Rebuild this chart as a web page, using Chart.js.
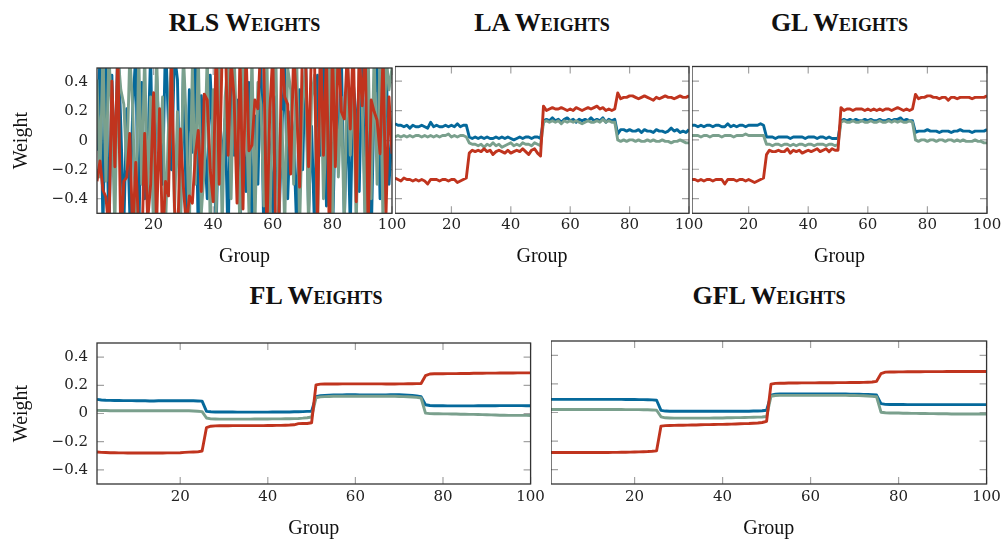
<!DOCTYPE html>
<html>
<head>
<meta charset="utf-8">
<script src="https://cdn.jsdelivr.net/npm/chart.js@4/dist/chart.umd.min.js"></script>
<style>
    html, body { margin: 0; padding: 0; background: #fff; width: 1005px; height: 543px; overflow: hidden; position: relative; }
    canvas { position: absolute; }
    .ttl {
        position: absolute;
        font-family: 'Liberation Serif', serif;
        font-weight: bold;
        font-size: 26px;
        line-height: 26px;
        font-variant: small-caps;
        color: #111;
        white-space: nowrap;
        transform: translateX(-50%);
    }
</style>
</head>
<body>
<div class="ttl" style="left:244.5px;top:10px">RLS Weights</div>
<div class="ttl" style="left:542px;top:10px">LA Weights</div>
<div class="ttl" style="left:839.5px;top:10px">GL Weights</div>
<div class="ttl" style="left:316px;top:283px">FL Weights</div>
<div class="ttl" style="left:769px;top:283px">GFL Weights</div>

<canvas id="rls"></canvas>
<canvas id="la"></canvas>
<canvas id="gl"></canvas>
<canvas id="fl"></canvas>
<canvas id="gfl"></canvas>

<script>
// group index 1..100 along the x axis
const groups = Array.from({ length: 100 }, (_, i) => i + 1);
const xTicks = [20, 40, 60, 80, 100];
const yTicks = [-0.4, -0.2, 0, 0.2, 0.4];

// RLS: unregularised, swings far past the +-0.5 window
const rlsBlue = [
    -0.07, 0.6, -0.6, 0.55, -0.7, 0.45, -0.3, 0.7, 0.1, -0.6,
    0.22, -0.5, 0.22, 0.6, -0.7, 0.4, -0.4, -0.1, 0.6, -0.6,
    0.45, -0.08, -0.3, 0.7, 0.1, -0.2, 0.6, 0.42, -0.6, 0.5,
    -0.5, 0.35, -0.08, 0.65, -0.7, 0.31, 0.0, -0.4, 0.45, -0.02,
    -0.6, 0.3, -0.2, 0.15, -0.7, 0.5, -0.1, 0.28, -0.6, 0.0,
    -0.35, 0.4, -0.6, 0.17, -0.3, 0.6, -0.7, 0.18, -0.05, -0.5,
    0.3, -0.6, 0.05, 0.5, -0.4, 0.2, 0.0, -0.6, 0.35, -0.2,
    0.6, -0.5, 0.1, -0.6, 0.45, -0.1, 0.6, -0.45, 0.36, -0.7,
    0.18, -0.1, 0.6, -0.55, 0.25, -0.6, 0.4, 0.16, -0.35, 0.6,
    -0.5, 0.2, -0.7, 0.3, 0.5, -0.4, 0.1, 0.6, -0.3, 0.05
];
const rlsGreen = [
    0.42, -0.25, 0.6, -0.28, 0.6, 0.15, -0.6, 0.6, 0.35, 0.25,
    -0.2, 0.6, 0.22, -0.6, 0.6, -0.3, 0.6, -0.4, 0.3, -0.6,
    0.6, -0.2, 0.3, -0.6, 0.1, 0.6, -0.5, 0.2, -0.6, 0.6,
    0.1, -0.6, 0.5, -0.3, 0.6, -0.5, -0.2, 0.6, -0.6, 0.35,
    -0.5, 0.6, -0.6, 0.3, 0.55, -0.4, 0.6, 0.0, -0.6, 0.55,
    0.3, -0.5, 0.6, -0.6, 0.4, 0.25, -0.45, 0.6, -0.6, 0.3,
    0.6, -0.55, 0.2, -0.6, 0.5, 0.35, -0.3, 0.6, -0.6, 0.25,
    0.5, -0.6, 0.3, 0.45, -0.6, 0.6, -0.4, 0.1, 0.6, -0.6,
    0.6, -0.25, 0.3, -0.6, 0.6, -0.1, 0.4, -0.6, 0.55, 0.25,
    -0.6, 0.6, -0.4, 0.6, -0.3, 0.6, -0.6, 0.6, 0.35, 0.5
];
const rlsRed = [
    -0.28, -0.14, -0.34, -0.39, -0.62, 0.41, -0.18, 0.65, -0.7, -0.28,
    -0.25, 0.05, -0.66, -0.15, -0.6, -0.8, 0.05, -0.55, -0.3, 0.33,
    -0.6, 0.22, -0.7, -0.28, -0.38, 0.6, -0.45, -0.75, 0.08, -0.32,
    -0.6, -0.38, -0.43, -0.1, 0.07, -0.35, 0.32, 0.28, -0.2, -0.42,
    0.7, -0.3, 0.6, 0.75, -0.1, 0.55, 0.3, -0.43, 0.6, -0.47,
    0.62, -0.07, -0.03, 0.28, 0.22, 0.7, 0.5, -0.65, 0.21, 0.6,
    -0.7, -0.6, 0.65, 0.3, 0.25, -0.23, 0.62, 0.24, -0.32, 0.7,
    0.58, -0.18, 0.66, 0.55, -0.6, 0.72, -0.1, 0.6, -0.7, 0.64,
    -0.18, 0.7, 0.2, 0.15, 0.62, 0.08, 0.7, -0.42, 0.6, 0.24,
    0.65, -0.6, 0.28, 0.2, 0.14, -0.09, 0.6, -0.5, 0.3, -0.09
];

// LA
const laBlue = [
    0.11, 0.10, 0.10, 0.09, 0.10, 0.08, 0.10, 0.09, 0.09, 0.10, 0.09, 0.08, 0.12, 0.09, 0.10, 0.09, 0.09, 0.10, 0.09, 0.10, 0.09, 0.11, 0.09, 0.10, 0.10,
    0.02, 0.01, 0.02, 0.01, 0.02, 0.01, 0.02, 0.01, 0.01, 0.02, 0.01, 0.02, 0.01, 0.02, 0.01, 0.00, 0.01, 0.02, 0.01, 0.02, 0.02, 0.01, 0.02, 0.02, 0.01,
    0.13, 0.14, 0.13, 0.15, 0.13, 0.14, 0.12, 0.14, 0.15, 0.13, 0.14, 0.12, 0.14, 0.13, 0.14, 0.13, 0.15, 0.13, 0.14, 0.13, 0.15, 0.12, 0.14, 0.13, 0.14,
    0.04, 0.07, 0.07, 0.06, 0.07, 0.06, 0.06, 0.07, 0.05, 0.07, 0.06, 0.06, 0.05, 0.07, 0.06, 0.06, 0.05, 0.06, 0.08, 0.06, 0.07, 0.05, 0.06, 0.05, 0.07
];
const laGreen = [
    0.02, 0.03, 0.02, 0.03, 0.02, 0.03, 0.02, 0.03, 0.03, 0.02, 0.03, 0.02, 0.03, 0.02, 0.03, 0.02, 0.03, 0.03, 0.04, 0.02, 0.03, 0.02, 0.03, 0.03, 0.02,
    -0.02, -0.03, -0.03, -0.04, -0.03, -0.05, -0.03, -0.04, -0.02, -0.04, -0.03, -0.05, -0.04, -0.03, -0.02, -0.04, -0.03, -0.04, -0.02, -0.03, -0.03, -0.04, -0.02, -0.03, -0.04,
    0.12, 0.13, 0.12, 0.13, 0.12, 0.13, 0.11, 0.13, 0.12, 0.13, 0.12, 0.13, 0.12, 0.11, 0.12, 0.13, 0.12, 0.12, 0.13, 0.12, 0.14, 0.12, 0.13, 0.12, 0.12,
    0.00, -0.01, 0.00, -0.01, 0.00, 0.00, -0.01, 0.00, -0.01, -0.01, 0.00, -0.01, 0.00, -0.01, -0.01, 0.00, -0.01, -0.01, -0.02, -0.01, -0.01, 0.00, -0.01, -0.02, -0.02
];
const laRed = [
    -0.26, -0.27, -0.28, -0.26, -0.27, -0.27, -0.28, -0.27, -0.28, -0.27, -0.28, -0.30, -0.27, -0.27, -0.27, -0.28, -0.27, -0.27, -0.28, -0.27, -0.27, -0.29, -0.28, -0.27, -0.26,
    -0.09, -0.07, -0.08, -0.07, -0.08, -0.06, -0.08, -0.07, -0.10, -0.08, -0.07, -0.08, -0.09, -0.07, -0.09, -0.08, -0.07, -0.08, -0.06, -0.08, -0.10, -0.07, -0.06, -0.09, -0.11,
    0.23, 0.20, 0.21, 0.22, 0.21, 0.21, 0.22, 0.21, 0.20, 0.21, 0.20, 0.22, 0.21, 0.20, 0.21, 0.22, 0.21, 0.22, 0.23, 0.21, 0.22, 0.20, 0.21, 0.20, 0.21,
    0.32, 0.28, 0.29, 0.29, 0.30, 0.30, 0.29, 0.28, 0.29, 0.30, 0.29, 0.28, 0.27, 0.29, 0.28, 0.29, 0.30, 0.29, 0.29, 0.28, 0.29, 0.30, 0.29, 0.29, 0.30
];

// GL
const glBlue = [
    0.10, 0.10, 0.09, 0.10, 0.09, 0.10, 0.10, 0.09, 0.10, 0.10, 0.09, 0.09, 0.11, 0.09, 0.10, 0.09, 0.10, 0.10, 0.09, 0.10, 0.10, 0.10, 0.10, 0.11, 0.10,
    0.02, 0.02, 0.02, 0.01, 0.02, 0.02, 0.02, 0.02, 0.01, 0.02, 0.02, 0.02, 0.02, 0.01, 0.02, 0.02, 0.02, 0.01, 0.02, 0.02, 0.01, 0.02, 0.01, 0.01, 0.01,
    0.13, 0.14, 0.13, 0.14, 0.13, 0.14, 0.13, 0.13, 0.14, 0.13, 0.14, 0.13, 0.13, 0.14, 0.13, 0.13, 0.14, 0.13, 0.14, 0.14, 0.15, 0.13, 0.14, 0.13, 0.13,
    0.05, 0.06, 0.06, 0.06, 0.07, 0.06, 0.06, 0.06, 0.05, 0.06, 0.06, 0.06, 0.05, 0.06, 0.06, 0.07, 0.06, 0.06, 0.06, 0.05, 0.06, 0.06, 0.06, 0.06, 0.07
];
const glGreen = [
    0.03, 0.03, 0.03, 0.02, 0.03, 0.03, 0.02, 0.03, 0.03, 0.03, 0.02, 0.03, 0.03, 0.03, 0.02, 0.03, 0.03, 0.03, 0.04, 0.03, 0.03, 0.03, 0.03, 0.03, 0.03,
    -0.03, -0.03, -0.04, -0.03, -0.03, -0.04, -0.03, -0.03, -0.04, -0.03, -0.04, -0.03, -0.03, -0.04, -0.03, -0.03, -0.04, -0.03, -0.03, -0.03, -0.04, -0.03, -0.03, -0.04, -0.03,
    0.12, 0.13, 0.12, 0.12, 0.13, 0.12, 0.12, 0.13, 0.12, 0.12, 0.13, 0.12, 0.12, 0.13, 0.12, 0.12, 0.13, 0.12, 0.13, 0.12, 0.13, 0.12, 0.12, 0.13, 0.12,
    0.00, -0.01, 0.00, 0.00, -0.01, 0.00, 0.00, -0.01, 0.00, 0.00, -0.01, 0.00, 0.00, -0.01, 0.00, -0.01, 0.00, -0.01, -0.01, -0.01, 0.00, -0.01, -0.01, -0.02, -0.02
];
const glRed = [
    -0.27, -0.27, -0.28, -0.27, -0.28, -0.27, -0.27, -0.28, -0.27, -0.27, -0.27, -0.30, -0.27, -0.27, -0.27, -0.28, -0.27, -0.27, -0.28, -0.27, -0.28, -0.29, -0.28, -0.27, -0.26,
    -0.10, -0.07, -0.08, -0.08, -0.07, -0.08, -0.08, -0.06, -0.09, -0.07, -0.08, -0.07, -0.09, -0.08, -0.07, -0.08, -0.07, -0.06, -0.08, -0.07, -0.06, -0.08, -0.06, -0.07, -0.07,
    0.22, 0.20, 0.21, 0.21, 0.20, 0.21, 0.21, 0.21, 0.20, 0.21, 0.20, 0.21, 0.20, 0.21, 0.20, 0.21, 0.21, 0.20, 0.21, 0.22, 0.21, 0.20, 0.21, 0.20, 0.21,
    0.31, 0.28, 0.29, 0.29, 0.30, 0.30, 0.29, 0.29, 0.28, 0.29, 0.29, 0.27, 0.29, 0.29, 0.28, 0.29, 0.29, 0.29, 0.29, 0.28, 0.29, 0.29, 0.29, 0.29, 0.30
];

// FL
const flBlue = [
    0.100, 0.096, 0.094, 0.093, 0.092, 0.092, 0.091, 0.091, 0.091, 0.090, 0.090, 0.090, 0.089, 0.089, 0.090, 0.090, 0.090, 0.090, 0.090, 0.090, 0.090, 0.090, 0.090, 0.089, 0.088,
    0.015, 0.012, 0.011, 0.011, 0.011, 0.011, 0.011, 0.010, 0.010, 0.010, 0.010, 0.010, 0.010, 0.010, 0.010, 0.011, 0.011, 0.011, 0.011, 0.011, 0.012, 0.012, 0.013, 0.015, 0.016,
    0.120, 0.126, 0.128, 0.130, 0.131, 0.132, 0.132, 0.133, 0.133, 0.133, 0.132, 0.132, 0.132, 0.132, 0.132, 0.132, 0.132, 0.133, 0.133, 0.133, 0.132, 0.130, 0.128, 0.125, 0.120,
    0.062, 0.057, 0.055, 0.055, 0.055, 0.054, 0.054, 0.054, 0.054, 0.054, 0.054, 0.054, 0.055, 0.055, 0.055, 0.055, 0.055, 0.056, 0.056, 0.056, 0.056, 0.056, 0.056, 0.055, 0.055
];
const flGreen = [
    0.022, 0.021, 0.021, 0.020, 0.020, 0.020, 0.020, 0.020, 0.020, 0.019, 0.019, 0.019, 0.019, 0.019, 0.019, 0.019, 0.020, 0.020, 0.020, 0.020, 0.019, 0.019, 0.018, 0.016, 0.013,
    -0.032, -0.038, -0.039, -0.040, -0.040, -0.040, -0.040, -0.040, -0.040, -0.040, -0.040, -0.039, -0.039, -0.039, -0.039, -0.038, -0.038, -0.038, -0.037, -0.037, -0.036, -0.035, -0.033, -0.030, -0.025,
    0.112, 0.118, 0.120, 0.121, 0.122, 0.122, 0.122, 0.122, 0.122, 0.122, 0.122, 0.122, 0.122, 0.122, 0.122, 0.122, 0.122, 0.122, 0.122, 0.121, 0.120, 0.119, 0.117, 0.114, 0.110,
    0.003, -0.001, -0.002, -0.002, -0.003, -0.003, -0.004, -0.004, -0.005, -0.005, -0.006, -0.006, -0.007, -0.008, -0.009, -0.010, -0.011, -0.012, -0.012, -0.013, -0.013, -0.013, -0.013, -0.013, -0.014
];
const flRed = [
    -0.273, -0.276, -0.277, -0.278, -0.278, -0.279, -0.279, -0.280, -0.280, -0.280, -0.280, -0.280, -0.280, -0.280, -0.280, -0.280, -0.279, -0.279, -0.279, -0.278, -0.276, -0.274, -0.273, -0.272, -0.266,
    -0.100, -0.090, -0.088, -0.087, -0.087, -0.087, -0.086, -0.086, -0.086, -0.086, -0.086, -0.086, -0.086, -0.086, -0.085, -0.085, -0.084, -0.084, -0.083, -0.082, -0.080, -0.072, -0.071, -0.071, -0.066,
    0.203, 0.208, 0.209, 0.209, 0.209, 0.209, 0.210, 0.210, 0.210, 0.210, 0.210, 0.210, 0.210, 0.210, 0.210, 0.210, 0.209, 0.209, 0.209, 0.210, 0.210, 0.211, 0.211, 0.212, 0.213,
    0.268, 0.280, 0.282, 0.282, 0.282, 0.283, 0.283, 0.283, 0.284, 0.284, 0.284, 0.285, 0.285, 0.285, 0.286, 0.286, 0.286, 0.287, 0.287, 0.287, 0.287, 0.288, 0.288, 0.288, 0.288
];

// GFL
const gflBlue = [
    0.092, 0.092, 0.092, 0.092, 0.092, 0.092, 0.092, 0.092, 0.092, 0.092, 0.092, 0.092, 0.092, 0.092, 0.092, 0.092, 0.092, 0.091, 0.091, 0.091, 0.090, 0.090, 0.089, 0.088, 0.086,
    0.015, 0.010, 0.009, 0.009, 0.009, 0.009, 0.009, 0.009, 0.009, 0.009, 0.009, 0.009, 0.009, 0.009, 0.009, 0.009, 0.009, 0.009, 0.009, 0.009, 0.009, 0.010, 0.011, 0.012, 0.016,
    0.122, 0.128, 0.129, 0.129, 0.129, 0.129, 0.129, 0.129, 0.129, 0.129, 0.129, 0.129, 0.129, 0.129, 0.129, 0.129, 0.129, 0.129, 0.128, 0.128, 0.128, 0.127, 0.126, 0.124, 0.122,
    0.062, 0.057, 0.056, 0.056, 0.056, 0.056, 0.055, 0.055, 0.055, 0.055, 0.055, 0.055, 0.055, 0.055, 0.055, 0.055, 0.055, 0.055, 0.055, 0.055, 0.055, 0.055, 0.055, 0.055, 0.055
];
const gflGreen = [
    0.021, 0.021, 0.021, 0.021, 0.021, 0.021, 0.021, 0.021, 0.021, 0.021, 0.021, 0.021, 0.021, 0.021, 0.021, 0.021, 0.021, 0.020, 0.020, 0.020, 0.020, 0.019, 0.019, 0.018, 0.016,
    -0.030, -0.037, -0.038, -0.039, -0.039, -0.039, -0.039, -0.039, -0.039, -0.039, -0.039, -0.039, -0.038, -0.038, -0.038, -0.037, -0.037, -0.036, -0.036, -0.035, -0.034, -0.033, -0.032, -0.031, -0.028,
    0.114, 0.119, 0.120, 0.120, 0.120, 0.120, 0.120, 0.120, 0.120, 0.120, 0.120, 0.120, 0.120, 0.120, 0.120, 0.120, 0.120, 0.120, 0.119, 0.119, 0.118, 0.117, 0.115, 0.113, 0.110,
    0.002, -0.002, -0.003, -0.004, -0.004, -0.005, -0.005, -0.006, -0.006, -0.007, -0.007, -0.008, -0.008, -0.009, -0.009, -0.009, -0.010, -0.010, -0.010, -0.010, -0.010, -0.010, -0.010, -0.010, -0.010
];
const gflRed = [
    -0.280, -0.280, -0.280, -0.280, -0.280, -0.280, -0.280, -0.280, -0.280, -0.280, -0.280, -0.280, -0.280, -0.280, -0.279, -0.279, -0.278, -0.278, -0.277, -0.276, -0.275, -0.274, -0.273, -0.271, -0.268,
    -0.095, -0.092, -0.091, -0.090, -0.089, -0.089, -0.088, -0.087, -0.087, -0.086, -0.085, -0.085, -0.084, -0.083, -0.083, -0.082, -0.081, -0.080, -0.079, -0.078, -0.077, -0.075, -0.073, -0.070, -0.062,
    0.198, 0.204, 0.205, 0.205, 0.206, 0.206, 0.206, 0.207, 0.207, 0.207, 0.207, 0.208, 0.208, 0.208, 0.208, 0.209, 0.209, 0.209, 0.210, 0.210, 0.210, 0.211, 0.212, 0.213, 0.218,
    0.272, 0.282, 0.283, 0.283, 0.284, 0.284, 0.285, 0.285, 0.285, 0.285, 0.286, 0.286, 0.286, 0.286, 0.286, 0.287, 0.287, 0.287, 0.287, 0.287, 0.287, 0.287, 0.287, 0.287, 0.287
];

const colors = { blue: '#05699b', green: '#7aa08d', red: '#c0341e' };
const tickFont = { family: "'DejaVu Serif', serif", size: 15 };
const labelFont = { family: "'Liberation Serif', serif", size: 20 };

const fmtY = v => (v === 0 ? '0' : (v < 0 ? '\u2212' : '') + Math.abs(v).toFixed(1));

// pgfplots-style box: inward tick marks on all four sides, then the frame
const axisBox = {
    id: 'axisBox',
    beforeDatasetsDraw(chart) {
        const { ctx, chartArea: a, scales: { x, y } } = chart;
        const len = 7;
        ctx.save();
        ctx.strokeStyle = '#a3a3a3';
        ctx.lineWidth = 1.2;
        ctx.beginPath();
        xTicks.forEach(v => {
            const px = x.getPixelForValue(v);
            ctx.moveTo(px, a.top);
            ctx.lineTo(px, a.top + len);
            ctx.moveTo(px, a.bottom);
            ctx.lineTo(px, a.bottom - len);
        });
        yTicks.forEach(v => {
            const py = y.getPixelForValue(v);
            ctx.moveTo(a.left, py);
            ctx.lineTo(a.left + len, py);
            ctx.moveTo(a.right, py);
            ctx.lineTo(a.right - len, py);
        });
        ctx.stroke();
        ctx.restore();
    },
    afterDatasetsDraw(chart) {
        const { ctx, chartArea: a } = chart;
        ctx.save();
        ctx.strokeStyle = '#333';
        ctx.lineWidth = 1.3;
        ctx.strokeRect(a.left, a.top, a.right - a.left, a.bottom - a.top);
        ctx.restore();
    }
};

function series(name, values, order) {
    return {
        data: groups.map((g, i) => ({ x: g, y: values[i] })),
        borderColor: colors[name],
        borderWidth: 2.9,
        borderJoinStyle: 'round',
        pointRadius: 0,
        tension: 0,
        fill: false,
        clip: 0,
        order: order,
    };
}

function panel(id, p) {
    const canvas = document.getElementById(id);
    canvas.width = p.w;
    canvas.height = p.h;
    canvas.style.left = p.left + 'px';
    canvas.style.top = p.top + 'px';

    new Chart(canvas, {
        type: 'line',
        data: {
            datasets: [
                series('red', p.red, 1),
                series('green', p.green, 2),
                series('blue', p.blue, 3),
            ],
        },
        options: {
            responsive: false,
            animation: false,
            events: [],
            layout: { padding: { left: 0, right: p.padRight, top: p.padTop, bottom: 0 } },
            plugins: {
                legend: { display: false },
                tooltip: { enabled: false },
            },
            scales: {
                x: {
                    type: 'linear',
                    min: 1,
                    max: 100,
                    grid: { display: false, drawTicks: false },
                    border: { display: false },
                    afterBuildTicks: s => { s.ticks = xTicks.map(v => ({ value: v })); },
                    afterFit: s => { s.height = p.xHeight; },
                    ticks: { padding: p.tickPad, color: '#222', font: tickFont, maxRotation: 0, autoSkip: false },
                    title: { display: true, text: 'Group', color: '#111', font: labelFont, padding: { top: 0, bottom: p.groupPad } },
                },
                y: {
                    type: 'linear',
                    min: -0.5,
                    max: 0.5,
                    grid: { display: false, drawTicks: false },
                    border: { display: false },
                    afterBuildTicks: s => { s.ticks = yTicks.map(v => ({ value: v })); },
                    afterFit: s => { s.width = p.yWidth; },
                    ticks: { display: p.yLabels, padding: 9, color: '#222', font: tickFont, callback: fmtY },
                    title: { display: p.yLabels, text: 'Weight', color: '#111', font: labelFont, padding: { top: 10, bottom: 0 } },
                },
            },
        },
        plugins: [axisBox],
    });
}

const topRow = { top: 50, h: 224, padTop: 16.5, xHeight: 60.7, tickPad: 3.2, groupPad: 5.3 };
const bottomRow = { top: 325, h: 218, padTop: 16, xHeight: 59, tickPad: 4.1, groupPad: 2.7 };

panel('rls', Object.assign({}, topRow, { left: 0, w: 412, yWidth: 97, padRight: 20, yLabels: true, blue: rlsBlue, green: rlsGreen, red: rlsRed }));
panel('la', Object.assign({}, topRow, { left: 395, w: 314, yWidth: 0, padRight: 20, yLabels: false, blue: laBlue, green: laGreen, red: laRed }));
panel('gl', Object.assign({}, topRow, { left: 692, w: 313, yWidth: 0, padRight: 18, yLabels: false, blue: glBlue, green: glGreen, red: glRed }));
panel('fl', Object.assign({}, bottomRow, { left: 0, w: 549, yWidth: 97, padRight: 14, yLabels: true, blue: flBlue, green: flGreen, red: flRed }));
panel('gfl', Object.assign({}, bottomRow, { left: 551, w: 454, yWidth: 0, padRight: 18, yLabels: false, blue: gflBlue, green: gflGreen, red: gflRed }));
</script>
</body>
</html>
